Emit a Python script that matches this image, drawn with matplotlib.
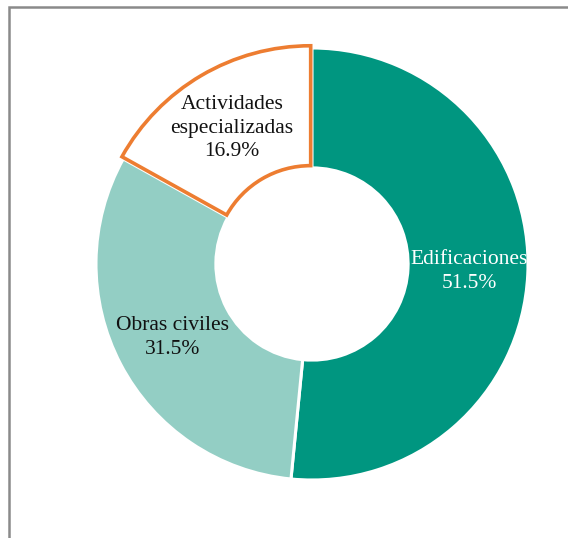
import numpy as np
import matplotlib.pyplot as plt
from matplotlib.patches import Rectangle

plt.rcParams['font.family'] = ['Liberation Serif', 'DejaVu Serif']

labels = ['Edificaciones', 'Obras civiles', 'Actividades\nespecializadas']
values = [51.5, 31.5, 16.9]
colors = ['#009680', '#93cec4', '#ffffff']
text_colors = ['white', '#111111', '#111111']
explode = [0, 0, 0.012]

W, H = 568, 538
fig = plt.figure(figsize=(W / 100, H / 100), dpi=100)
fig.patch.set_facecolor('white')

# grey frame, only top and left edges visible in the reference
fig.patches.append(Rectangle((9 / W, -0.2), 1.2, 1.2 - 7 / H,
                             transform=fig.transFigure, fill=False,
                             edgecolor='#8a8a8a', linewidth=1.8))

cx, cy, R = 312, 264, 216
ax = fig.add_axes([(cx - R) / W, (H - cy - R) / H, 2 * R / W, 2 * R / H])

wedges, _ = ax.pie(values, colors=colors, startangle=90, counterclock=False,
                   explode=explode, radius=1,
                   wedgeprops=dict(width=0.555, edgecolor='white', linewidth=2.2))
wedges[2].set_edgecolor('#ed7d31')
wedges[2].set_linewidth(2.6)
wedges[2].set_zorder(5)

total = sum(values)
start = 90
for w, lab, v, tc in zip(wedges, labels, values, text_colors):
    sweep = 360 * v / total
    mid = np.deg2rad(start - sweep / 2)
    start -= sweep
    r = 0.73
    ax.text(r * np.cos(mid), r * np.sin(mid), f'{lab}\n{v}%', ha='center',
            va='center', fontsize=15.5, color=tc, linespacing=1.35, zorder=10)

ax.set_xlim(-1, 1)
ax.set_ylim(-1, 1)
ax.set_aspect('auto')
ax.axis('off')

fig.savefig('out.png', dpi=100)
